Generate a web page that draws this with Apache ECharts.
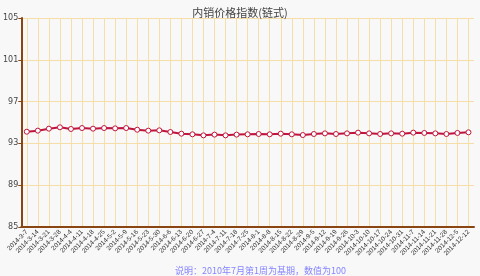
<!DOCTYPE html>
<html lang="zh">
<head>
    <meta charset="UTF-8">
    <title>内销价格指数(链式)</title>
    <style>
        html, body { margin: 0; padding: 0; background: #f8f8f8; }
        #main { width: 480px; height: 276px; }
    </style>
    <script src="https://cdn.jsdelivr.net/npm/echarts@6/dist/echarts.min.js"></script>
</head>
<body>
<div id="main"></div>
<script type="text/javascript">
    var weeks = [
        '2014-3-7', '2014-3-14', '2014-3-21', '2014-3-28',
        '2014-4-4', '2014-4-11', '2014-4-18', '2014-4-25',
        '2014-5-2', '2014-5-9', '2014-5-16', '2014-5-23', '2014-5-30',
        '2014-6-6', '2014-6-13', '2014-6-20', '2014-6-27',
        '2014-7-4', '2014-7-11', '2014-7-18', '2014-7-25',
        '2014-8-1', '2014-8-8', '2014-8-15', '2014-8-22', '2014-8-29',
        '2014-9-5', '2014-9-12', '2014-9-19', '2014-9-26',
        '2014-10-3', '2014-10-10', '2014-10-17', '2014-10-24', '2014-10-31',
        '2014-11-7', '2014-11-14', '2014-11-21', '2014-11-28',
        '2014-12-5', '2014-12-12'
    ];
    // 内销价格指数(链式)
    var priceIndex = [
        94.12, 94.22, 94.41, 94.54,
        94.38, 94.47, 94.41, 94.47,
        94.44, 94.47, 94.31, 94.22, 94.25,
        94.09, 93.93, 93.87, 93.77,
        93.84, 93.77, 93.84, 93.87,
        93.90, 93.87, 93.93, 93.87, 93.80,
        93.90, 93.96, 93.90, 93.96,
        94.03, 93.96, 93.90, 93.96, 93.93,
        94.03, 94.00, 93.96, 93.90,
        94.00, 94.06
    ];
    var titleText = '内销价格指数(链式)';
    var noteText = '说明：2010年7月第1周为基期，数值为100';

    var myChart = echarts.init(document.getElementById('main'));
    var option = {
        backgroundColor: '#f8f8f8',
        animation: false,
        title: [{
            text: titleText,
            left: 'center',
            top: 2,
            textStyle: { fontSize: 11, fontWeight: 'normal', color: '#444', fontFamily: 'Noto Sans CJK SC' }
        }, {
            text: noteText,
            left: 170,
            top: 261,
            textStyle: { fontSize: 9, fontWeight: 'normal', color: '#8585ff', fontFamily: 'Noto Sans CJK SC' }
        }],
        grid: { left: 19, right: 6, top: 18, bottom: 49 },
        xAxis: {
            type: 'category',
            data: weeks,
            boundaryGap: true,
            axisLine: { lineStyle: { color: '#8b4513', width: 2 } },
            axisTick: { alignWithLabel: true, length: 3, lineStyle: { color: '#8b4513' } },
            axisLabel: {
                interval: 0, rotate: 45, fontSize: 6.5, color: '#333', margin: 4,
                fontFamily: 'Liberation Sans'
            },
            splitLine: { show: true, alignWithLabel: true, lineStyle: { color: '#f6dea8', width: 1 } }
        },
        yAxis: {
            type: 'value',
            min: 85, max: 105, interval: 4,
            axisLine: { show: true, lineStyle: { color: '#8b4513', width: 2 } },
            axisTick: { show: true, length: 3, lineStyle: { color: '#8b4513' } },
            axisLabel: { fontSize: 8, color: '#444', margin: 3, fontFamily: 'DejaVu Sans' },
            splitLine: { show: true, lineStyle: { color: '#f6dea8', width: 1 } }
        },
        series: [{
            name: titleText,
            type: 'line',
            data: priceIndex,
            symbol: 'circle',
            symbolSize: 5,
            lineStyle: { color: '#c0143c', width: 2 },
            itemStyle: { color: '#ffffff', borderColor: '#c0143c', borderWidth: 1 }
        }]
    };
    myChart.setOption(option);
</script>
</body>
</html>
